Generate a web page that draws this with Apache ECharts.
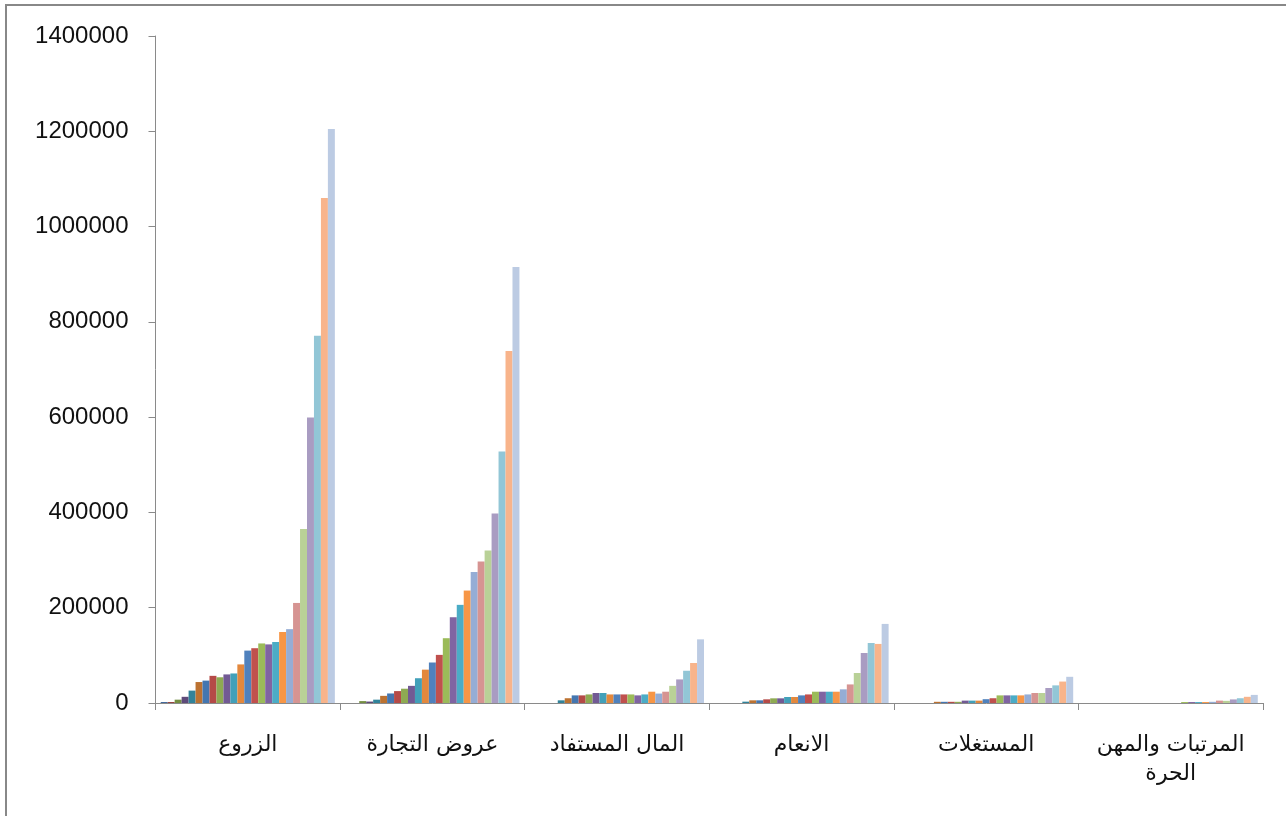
<!DOCTYPE html>
<html>
<head>
<meta charset="utf-8">
<script src="https://cdn.jsdelivr.net/npm/echarts@6/dist/echarts.min.js"></script>
<style>
html,body{margin:0;padding:0;background:#fff;}
#chart{width:1286px;height:816px;}
</style>
</head>
<body>
<div id="chart"></div>
<script>
// Categories (x axis)
var categories = ['الزروع', 'عروض التجارة', 'المال المستفاد', 'الانعام', 'المستغلات', 'المرتبات والمهن الحرة'];

// Values for each category, one entry per series (25 series)
var zuruu = [2000, 2000, 7000, 13000, 26000, 44000, 47000, 57000, 54000, 60000, 62000, 81000, 110000, 115000, 125000, 123000, 128000, 149000, 155000, 210000, 365000, 599000, 771000, 1060000, 1205000];
var urudTijara = [0, 0, 4000, 3000, 7000, 15000, 20000, 25000, 30000, 36000, 52000, 70000, 85000, 101000, 136000, 180000, 206000, 236000, 275000, 297000, 320000, 398000, 528000, 739000, 915000];
var malMustafad = [0, 0, 0, 0, 5600, 10000, 16000, 16000, 18000, 21000, 21000, 18000, 18000, 18000, 18000, 16000, 18000, 23700, 19800, 23700, 36000, 49500, 67700, 84000, 133600];
var anaam = [0, 0, 0, 0, 2800, 5600, 5600, 7700, 9800, 9800, 12600, 12600, 16000, 18000, 23700, 23700, 23700, 23700, 28700, 39000, 63000, 105000, 126000, 124000, 166000];
var mustaghallat = [0, 0, 0, 0, 0, 2500, 2500, 2500, 2500, 5000, 5000, 5000, 8000, 10000, 16000, 16000, 16000, 16000, 18000, 21000, 21000, 31500, 37000, 45000, 55000];
var murattabat = [0, 0, 0, 0, 0, 0, 0, 0, 0, 0, 0, 0, 0, 0, 2000, 2000, 2000, 2000, 2500, 5000, 4500, 7500, 10000, 13000, 17000];

// Y axis ticks
var yTicks = [0, 200000, 400000, 600000, 800000, 1000000, 1200000, 1400000];

var colors = [
  '#3A6296', '#953B39', '#748E42', '#5E4A7A', '#31839A', '#BC7231',
  '#4476B0', '#B54A47', '#8EAA52', '#725A94', '#42A0B9', '#E3883D',
  '#4F81BD', '#C0504D', '#9BBB59', '#8064A2', '#4BACC6', '#F79646',
  '#95ADD5', '#D69492', '#B9D197', '#A99CC2', '#92C6D6', '#F8B48B',
  '#BCCBE3'
];

var table = [zuruu, urudTijara, malMustafad, anaam, mustaghallat, murattabat];
var nSeries = zuruu.length;
var series = [];
for (var s = 0; s < nSeries; s++) {
  series.push({
    name: String(s + 1),
    type: 'bar',
    barGap: '0%',
    barCategoryGap: '5.66%',
    itemStyle: { color: colors[s % colors.length] },
    data: table.map(function (row) { return row[s]; })
  });
}

var chart = echarts.init(document.getElementById('chart'), null, { renderer: 'canvas' });
chart.setOption({
  animation: false,
  backgroundColor: '#fff',
  grid: { left: 155.5, right: 23, top: 36, bottom: 113, containLabel: false },
  graphic: [{
    type: 'rect',
    shape: { x: 6, y: 5, width: 1300, height: 840 },
    style: { fill: 'none', stroke: '#888888', lineWidth: 2 },
    silent: true,
    z: 100
  }],
  xAxis: {
    type: 'category',
    data: categories,
    axisLine: { lineStyle: { color: '#8a8a8a', width: 1 } },
    axisTick: { show: true, length: 7, alignWithLabel: false, lineStyle: { color: '#8a8a8a' } },
    axisLabel: {
      interval: 0,
      margin: 28,
      color: '#111',
      fontSize: 22,
      lineHeight: 29,
      fontFamily: 'DejaVu Sans, Noto Sans, sans-serif',
      formatter: function (v) {
        return v === 'المرتبات والمهن الحرة' ? 'المرتبات والمهن\nالحرة' : v;
      }
    },
    splitLine: { show: false }
  },
  yAxis: {
    type: 'value',
    min: yTicks[0],
    max: yTicks[yTicks.length - 1],
    interval: yTicks[1] - yTicks[0],
    axisLine: { show: true, lineStyle: { color: '#8a8a8a', width: 1 } },
    axisTick: { show: true, length: 7, lineStyle: { color: '#8a8a8a' } },
    axisLabel: {
      margin: 27,
      color: '#111',
      fontSize: 24,
      fontFamily: 'Liberation Sans, Arial, sans-serif',
      formatter: function (v) { return String(v); }
    },
    splitLine: { show: false }
  },
  series: series
});
</script>
</body>
</html>
